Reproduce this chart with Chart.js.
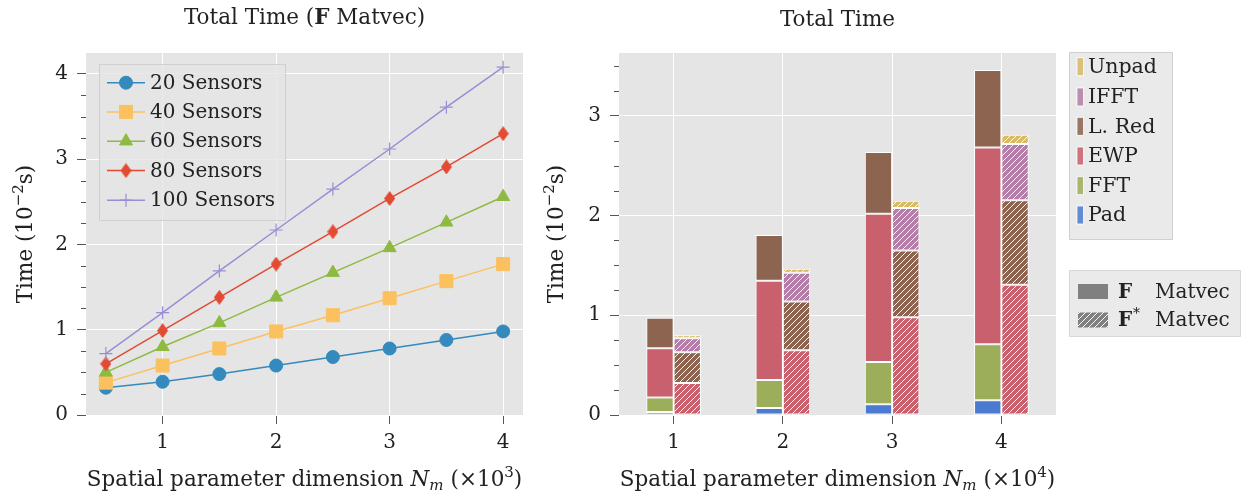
<!DOCTYPE html>
<html><head><meta charset="utf-8">
<script src="https://cdn.jsdelivr.net/npm/chart.js@4/dist/chart.umd.min.js"></script>
<style>
body{margin:0;background:#fff}
#wrap{position:relative;width:1247px;height:500px}
.box{position:absolute;top:0;height:500px}
</style></head>
<body>
<div id="wrap">
  <div class="box" style="left:0;width:540px"><canvas id="c1"></canvas></div>
  <div class="box" style="left:540px;width:707px"><canvas id="c2"></canvas></div>
</div>
<script>
// ---------- data: left chart ----------
const xValues   = [0.5, 1, 1.5, 2, 2.5, 3, 3.5, 4];
const sensors20  = [0.32, 0.39, 0.48, 0.58, 0.68, 0.78, 0.88, 0.98];
const sensors40  = [0.38, 0.58, 0.78, 0.98, 1.17, 1.37, 1.57, 1.77];
const sensors60  = [0.50, 0.80, 1.08, 1.38, 1.67, 1.96, 2.26, 2.56];
const sensors80  = [0.60, 0.99, 1.38, 1.77, 2.15, 2.54, 2.91, 3.30];
const sensors100 = [0.72, 1.20, 1.69, 2.17, 2.65, 3.12, 3.61, 4.08];
const seriesLabels = ['20 Sensors', '40 Sensors', '60 Sensors', '80 Sensors', '100 Sensors'];
const leftXTicks = [1, 2, 3, 4];
const leftYTicks = [0, 1, 2, 3, 4];

// ---------- data: right chart ----------
const barCategories = ['1', '2', '3', '4'];
const fPad   = [0.03, 0.07, 0.107, 0.147];
const fFFT   = [0.145, 0.282, 0.425, 0.562];
const fEWP   = [0.495, 0.994, 1.487, 1.974];
const fLRed  = [0.305, 0.459, 0.619, 0.777];
const adjEWP   = [0.32, 0.65, 0.981, 1.306];
const adjLRed  = [0.31, 0.488, 0.669, 0.847];
const adjIFFT  = [0.14, 0.288, 0.426, 0.565];
const adjUnpad = [0.03, 0.04, 0.073, 0.093];
const rightYTicks = [0, 1, 2, 3];
const componentLabels = ['Unpad', 'IFFT', 'L. Red', 'EWP', 'FFT', 'Pad'];

// ---------- styling ----------
const FF = '"DejaVu Serif", serif';
const FS = 20;      // ticks & legends
const TS = 21.5;    // titles & axis labels
const SS = 15;      // super/subscripts
const TXT = '#222';
const BG = '#E5E5E5';
const TICKC = '#555';
const lineColors = ['#348ABD', '#FBC15E', '#8EBA42', '#E24A33', '#988ED5'];
const compColors = {Pad:'#4A7BD0', FFT:'#9DAE5A', EWP:'#C9606E', 'L. Red':'#8C6450', IFFT:'#B47EA8', Unpad:'#D7BB6A'};

function f(sz, style) { return (style ? style + ' ' : '') + sz + 'px ' + FF; }

function drawRich(ctx, parts, x, y, rot) {
  ctx.save();
  ctx.translate(x, y);
  if (rot) ctx.rotate(rot);
  ctx.textBaseline = 'alphabetic';
  ctx.textAlign = 'left';
  let w = 0;
  parts.forEach(p => { ctx.font = p.f; p.w = ctx.measureText(p.t).width; w += p.w + (p.gap || 0); });
  let cx = -w / 2;
  parts.forEach(p => {
    ctx.font = p.f; ctx.fillStyle = p.c || TXT;
    ctx.fillText(p.t, cx, p.dy || 0);
    cx += p.w + (p.gap || 0);
  });
  ctx.restore();
}

function thinDiamond(color, w, h) {
  const c = document.createElement('canvas'); c.width = w; c.height = h;
  const g = c.getContext('2d');
  g.fillStyle = color;
  g.beginPath(); g.moveTo(w / 2, 0); g.lineTo(w, h / 2); g.lineTo(w / 2, h); g.lineTo(0, h / 2); g.closePath(); g.fill();
  return c;
}

function hatch(ctx, color) {
  const c = document.createElement('canvas'); c.width = 6; c.height = 6;
  const g = c.getContext('2d');
  g.fillStyle = color; g.fillRect(0, 0, 6, 6);
  g.strokeStyle = 'rgba(255,255,255,0.95)'; g.lineWidth = 1;
  g.beginPath();
  g.moveTo(-1, 7); g.lineTo(7, -1);
  g.moveTo(-1, 1); g.lineTo(1, -1);
  g.moveTo(5, 7); g.lineTo(7, 5);
  g.stroke();
  return ctx.createPattern(c, 'repeat');
}

const bgPlugin = {
  id: 'bg',
  beforeDraw(chart) {
    const a = chart.chartArea, ctx = chart.ctx;
    ctx.save(); ctx.fillStyle = BG; ctx.fillRect(a.left, a.top, a.right - a.left, a.bottom - a.top); ctx.restore();
  }
};

const minorPlugin = {
  id: 'minor',
  afterDraw(chart) {
    const s = chart.scales.y, a = chart.chartArea, ctx = chart.ctx;
    ctx.save(); ctx.strokeStyle = TICKC; ctx.lineWidth = 1;
    for (let v = 0.25; v < s.max; v += 0.25) {
      if (Math.abs(v - Math.round(v)) < 1e-6) continue;
      const y = Math.round(s.getPixelForValue(v)) + 0.5;
      ctx.beginPath(); ctx.moveTo(a.left - 5, y); ctx.lineTo(a.left, y); ctx.stroke();
    }
    ctx.restore();
  }
};

// ---------- left chart ----------
const series = [sensors20, sensors40, sensors60, sensors80, sensors100];
const pointStyles = ['circle', 'rect', 'triangle', thinDiamond(lineColors[3], 11, 15), 'cross'];
const pointRadii = [6.5, 9.2, 7.5, 7, 6.5];

const leftDatasets = series.map((arr, i) => ({
  label: seriesLabels[i],
  data: xValues.map((x, j) => ({x: x, y: arr[j]})),
  borderColor: lineColors[i],
  backgroundColor: lineColors[i],
  pointBackgroundColor: lineColors[i],
  pointBorderColor: lineColors[i],
  pointBorderWidth: i === 4 ? 1.2 : 1,
  pointStyle: pointStyles[i],
  pointRadius: pointRadii[i],
  borderWidth: 1.5,
  tension: 0,
  order: 4 - i
}));

const leftDeco = {
  id: 'leftDeco',
  afterDraw(chart) {
    const ctx = chart.ctx, a = chart.chartArea;
    const cx = (a.left + a.right) / 2;
    drawRich(ctx, [
      {t: 'Total Time (', f: f(TS)},
      {t: 'F', f: f(TS, 'bold')},
      {t: ' Matvec)', f: f(TS)}
    ], cx, 24);
    drawRich(ctx, [
      {t: 'Spatial parameter dimension ', f: f(TS)},
      {t: 'N', f: f(TS, 'italic')},
      {t: 'm', f: f(SS, 'italic'), dy: 4, gap: 7},
      {t: '(×10', f: f(TS)},
      {t: '3', f: f(SS), dy: -9},
      {t: ')', f: f(TS)}
    ], cx, 486);
    drawRich(ctx, [
      {t: 'Time (10', f: f(TS)},
      {t: '−2', f: f(SS), dy: -9},
      {t: 's)', f: f(TS)}
    ], 32, (a.top + a.bottom) / 2, -Math.PI / 2);
    // legend
    const bx = 99, by = 64, bw = 186, bh = 156;
    ctx.save();
    ctx.fillStyle = 'rgba(229,229,229,0.8)'; ctx.strokeStyle = 'rgba(204,204,204,0.9)'; ctx.lineWidth = 1;
    ctx.beginPath(); ctx.rect(bx + 0.5, by + 0.5, bw, bh); ctx.fill(); ctx.stroke();
    const ys = [82.7, 111.9, 141.2, 170.6, 200.2];
    chart.data.datasets.forEach((ds, i) => {
      const y = ys[i];
      ctx.strokeStyle = ds.borderColor; ctx.lineWidth = 1.5;
      ctx.beginPath(); ctx.moveTo(107, y); ctx.lineTo(145, y); ctx.stroke();
      ctx.fillStyle = ds.pointBackgroundColor; ctx.strokeStyle = ds.pointBorderColor; ctx.lineWidth = ds.pointBorderWidth;
      Chart.helpers.drawPoint(ctx, {pointStyle: ds.pointStyle, radius: ds.pointRadius, rotation: 0, borderWidth: ds.pointBorderWidth}, 126, y);
      ctx.fillStyle = TXT; ctx.font = f(FS); ctx.textBaseline = 'middle'; ctx.textAlign = 'left';
      ctx.fillText(ds.label, 150, y + 1);
    });
    ctx.restore();
  }
};

new Chart(document.getElementById('c1'), {
  type: 'line',
  data: {datasets: leftDatasets},
  plugins: [bgPlugin, minorPlugin, leftDeco],
  options: {
    responsive: true, maintainAspectRatio: false, animation: false,
    layout: {padding: {top: 53, right: 17, left: 0, bottom: 0}},
    plugins: {legend: {display: false}, title: {display: false}, tooltip: {enabled: false}},
    scales: {
      x: {
        type: 'linear', min: 0.325, max: 4.175,
        afterBuildTicks: s => { s.ticks = leftXTicks.map(v => ({value: v})); },
        afterFit: s => { s.height = 85; },
        border: {display: false},
        grid: {color: '#fff', lineWidth: 1, tickColor: TICKC, tickLength: 9, tickWidth: 1},
        ticks: {font: {family: FF, size: FS}, color: TXT, padding: 7, maxRotation: 0}
      },
      y: {
        min: 0, max: 4.246,
        afterBuildTicks: s => { s.ticks = leftYTicks.map(v => ({value: v})); },
        afterFit: s => { s.width = 86; },
        border: {display: false},
        grid: {color: '#fff', lineWidth: 1, tickColor: TICKC, tickLength: 9, tickWidth: 1},
        ticks: {font: {family: FF, size: FS}, color: TXT, padding: 9}
      }
    }
  }
});

// ---------- right chart ----------
const c2 = document.getElementById('c2');
const c2ctx = c2.getContext('2d');
function solid(label, data) {
  return {label: label, data: data, stack: 'F', backgroundColor: compColors[label],
          borderColor: '#fff', borderWidth: 1, borderSkipped: false};
}
function hatched(label, data) {
  return {label: label + ' (adj)', data: data, stack: 'Fadj', backgroundColor: hatch(c2ctx, compColors[label]),
          borderColor: '#fff', borderWidth: 1, borderSkipped: false};
}

const rightDeco = {
  id: 'rightDeco',
  afterDraw(chart) {
    const ctx = chart.ctx, a = chart.chartArea;
    const cx = (a.left + a.right) / 2;
    drawRich(ctx, [{t: 'Total Time', f: f(TS)}], cx, 26);
    drawRich(ctx, [
      {t: 'Spatial parameter dimension ', f: f(TS)},
      {t: 'N', f: f(TS, 'italic')},
      {t: 'm', f: f(SS, 'italic'), dy: 4, gap: 7},
      {t: '(×10', f: f(TS)},
      {t: '4', f: f(SS), dy: -9},
      {t: ')', f: f(TS)}
    ], cx, 486);
    drawRich(ctx, [
      {t: 'Time (10', f: f(TS)},
      {t: '−2', f: f(SS), dy: -9},
      {t: 's)', f: f(TS)}
    ], 23, (a.top + a.bottom) / 2, -Math.PI / 2);
    ctx.save();
    // legend 1: components
    ctx.fillStyle = 'rgba(229,229,229,0.8)'; ctx.strokeStyle = 'rgba(204,204,204,0.9)'; ctx.lineWidth = 1;
    ctx.beginPath(); ctx.rect(529.5, 52.5, 103, 187); ctx.fill(); ctx.stroke();
    const ys = [66.7, 97, 126.3, 156, 185.7, 215];
    componentLabels.forEach((lab, i) => {
      const y = ys[i];
      ctx.fillStyle = compColors[lab]; ctx.globalAlpha = 0.85;
      ctx.fillRect(537, y - 9, 6.5, 18);
      ctx.globalAlpha = 1;
      ctx.strokeStyle = '#fff'; ctx.lineWidth = 0.8; ctx.strokeRect(537, y - 9, 6.5, 18);
      ctx.fillStyle = TXT; ctx.font = f(20.5); ctx.textBaseline = 'middle'; ctx.textAlign = 'left';
      ctx.fillText(lab, 548, y + 1);
    });
    // legend 2: matvec type
    ctx.fillStyle = 'rgba(229,229,229,0.8)'; ctx.strokeStyle = 'rgba(204,204,204,0.9)';
    ctx.beginPath(); ctx.rect(529.5, 270.5, 171, 66); ctx.fill(); ctx.stroke();
    ctx.fillStyle = '#808080'; ctx.fillRect(538, 284, 30, 15);
    ctx.fillStyle = hatch(ctx, '#808080'); ctx.fillRect(538, 312.5, 30, 15);
    ctx.fillStyle = TXT; ctx.textBaseline = 'middle'; ctx.textAlign = 'left';
    ctx.font = f(FS, 'bold'); ctx.fillText('F', 578, 292.5);
    ctx.font = f(FS); ctx.fillText('Matvec', 615, 292.5);
    ctx.font = f(FS, 'bold'); ctx.fillText('F', 578, 321);
    ctx.font = f(14); ctx.fillText('*', 593, 314);
    ctx.font = f(FS); ctx.fillText('Matvec', 615, 321);
    ctx.restore();
  }
};

new Chart(c2, {
  type: 'bar',
  data: {
    labels: barCategories,
    datasets: [
      solid('Pad', fPad), solid('FFT', fFFT), solid('EWP', fEWP), solid('L. Red', fLRed),
      hatched('EWP', adjEWP), hatched('L. Red', adjLRed), hatched('IFFT', adjIFFT), hatched('Unpad', adjUnpad)
    ]
  },
  plugins: [bgPlugin, minorPlugin, rightDeco],
  options: {
    responsive: true, maintainAspectRatio: false, animation: false,
    categoryPercentage: 0.5, barPercentage: 1.0,
    layout: {padding: {top: 53, right: 191, left: 0, bottom: 0}},
    plugins: {legend: {display: false}, title: {display: false}, tooltip: {enabled: false}},
    scales: {
      x: {
        stacked: true, offset: true,
        afterFit: s => { s.height = 85; },
        border: {display: false},
        grid: {offset: false, color: '#fff', lineWidth: 1, tickColor: TICKC, tickLength: 9, tickWidth: 1},
        ticks: {font: {family: FF, size: FS}, color: TXT, padding: 7, maxRotation: 0}
      },
      y: {
        stacked: true, min: 0, max: 3.63,
        afterBuildTicks: s => { s.ticks = rightYTicks.map(v => ({value: v})); },
        afterFit: s => { s.width = 79; },
        border: {display: false},
        grid: {color: '#fff', lineWidth: 1, tickColor: TICKC, tickLength: 9, tickWidth: 1},
        ticks: {font: {family: FF, size: FS}, color: TXT, padding: 9}
      }
    }
  }
});
</script>
</body></html>
